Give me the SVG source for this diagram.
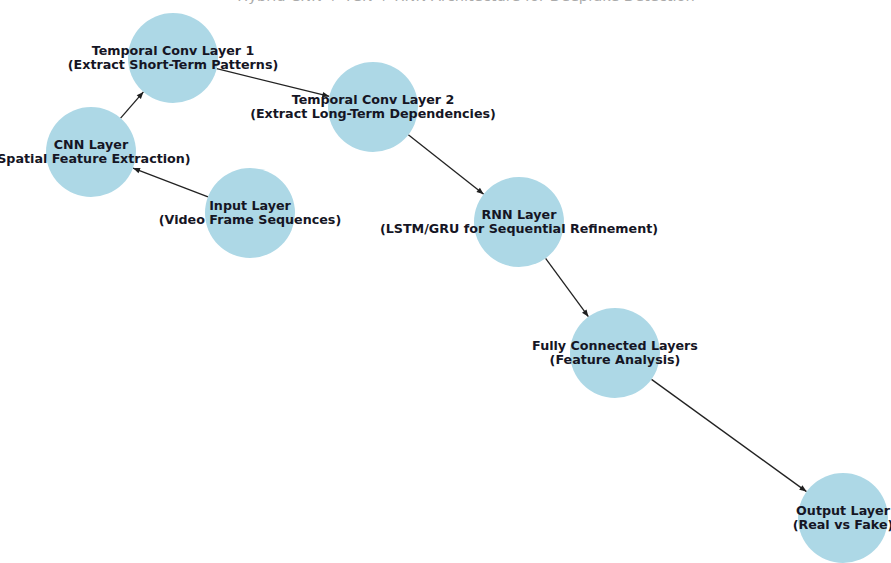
<svg xmlns="http://www.w3.org/2000/svg" width="891" height="563" viewBox="0 0 891 563">
  <defs>
    <marker id="arrow" viewBox="0 0 10 10" refX="10" refY="5" markerWidth="8" markerHeight="7" markerUnits="userSpaceOnUse" orient="auto">
      <path d="M0,1 L10,5 L0,9 z" fill="#1f1f1f"/>
    </marker>
    <style>
      .node circle { fill: #add8e6; }
      .node text { font-family: "DejaVu Sans", "Liberation Sans", sans-serif; font-weight: bold; font-size: 12.7px; fill: #151524; text-anchor: middle; }
      .edges line { stroke: #222; stroke-width: 1.3; marker-end: url(#arrow); }
      .title { font-family: "DejaVu Sans", "Liberation Sans", sans-serif; font-size: 14.6px; fill: #aaa; text-anchor: middle; }
    </style>
  </defs>
  <rect width="891" height="563" fill="#ffffff"/>

  <text class="title" x="466" y="0.5">Hybrid CNN + TCN + RNN Architecture for Deepfake Detection</text>

  <g id="connectors" class="edges">
    <line x1="208" y1="196.9" x2="133" y2="168.1"/>
    <line x1="120.6" y1="118.1" x2="143.4" y2="91.9"/>
    <line x1="216.7" y1="68.7" x2="329.3" y2="96.3"/>
    <line x1="408.3" y1="134.8" x2="483.7" y2="194.2"/>
    <line x1="545.6" y1="258.3" x2="588.4" y2="316.7"/>
    <line x1="651.5" y1="379.4" x2="806.5" y2="491.6"/>
  </g>

  <g id="input-layer" class="node">
    <circle cx="250" cy="213" r="45"/>
    <text x="250" y="210">Input Layer</text>
    <text x="250" y="224">(Video Frame Sequences)</text>
  </g>

  <g id="cnn-layer" class="node">
    <circle cx="91" cy="152" r="45"/>
    <text x="91" y="149">CNN Layer</text>
    <text x="91" y="163">(Spatial Feature Extraction)</text>
  </g>

  <g id="temporal-conv-1" class="node">
    <circle cx="173" cy="58" r="45"/>
    <text x="173" y="55">Temporal Conv Layer 1</text>
    <text x="173" y="69">(Extract Short-Term Patterns)</text>
  </g>

  <g id="temporal-conv-2" class="node">
    <circle cx="373" cy="107" r="45"/>
    <text x="373" y="104">Temporal Conv Layer 2</text>
    <text x="373" y="118">(Extract Long-Term Dependencies)</text>
  </g>

  <g id="rnn-layer" class="node">
    <circle cx="519" cy="222" r="45"/>
    <text x="519" y="219">RNN Layer</text>
    <text x="519" y="233">(LSTM/GRU for Sequential Refinement)</text>
  </g>

  <g id="fc-layers" class="node">
    <circle cx="615" cy="353" r="45"/>
    <text x="615" y="350">Fully Connected Layers</text>
    <text x="615" y="364">(Feature Analysis)</text>
  </g>

  <g id="output-layer" class="node">
    <circle cx="843" cy="518" r="45"/>
    <text x="843" y="515">Output Layer</text>
    <text x="843" y="529">(Real vs Fake)</text>
  </g>
</svg>
